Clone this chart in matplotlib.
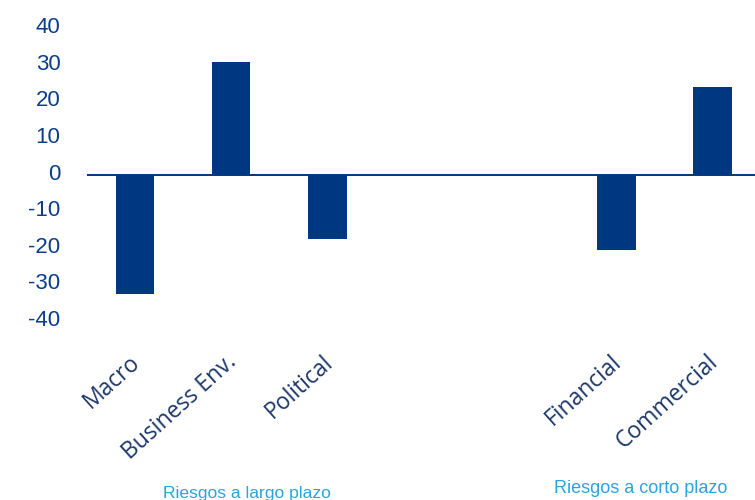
import numpy as np
import matplotlib.pyplot as plt
import matplotlib.transforms as mtransforms

# =============================
# DATA
# =============================

categories = ["Macro", "Business Env.", "Political", "Financial", "Commercial"]
positions = [0, 1, 2, 5, 6]
values = [-32.5, 30.8, -17.5, -20.5, 23.8]

group_labels = ["Riesgos a largo plazo", "Riesgos a corto plazo"]
group_centers = [1.16, 5.25]

yticks = [40, 30, 20, 10, 0, -10, -20, -30, -40]

# =============================
# STYLE
# =============================

BAR_BLUE = "#003781"
TICK_BLUE = "#0a3d8c"
LABEL_NAVY = "#1c3769"
LIGHT_BLUE = "#2aa3de"

plt.rcParams["font.family"] = ["DejaVu Sans"]

# =============================
# PLOT
# =============================

fig = plt.figure(figsize=(7.55, 5.0), dpi=100)
ax = fig.add_axes([0.115, 0.358, 0.885, 0.586])

ax.bar(positions, values, width=0.4, color=BAR_BLUE, zorder=2)
ax.axhline(0, color=BAR_BLUE, linewidth=1.4, zorder=3)

ax.set_xlim(-0.5, 6.44)
ax.set_ylim(-40, 40)

ax.set_yticks(yticks)
ax.set_yticklabels([str(v) for v in yticks], fontsize=16, color=TICK_BLUE,
                   family="Liberation Sans")
ax.tick_params(axis="y", length=0, pad=19)
ax.set_xticks([])

# tick labels sit a touch above their values in the original
up = mtransforms.ScaledTranslation(0, 3 / 100, fig.dpi_scale_trans)
for t in ax.get_yticklabels():
    t.set_transform(t.get_transform() + up)

for s in ax.spines.values():
    s.set_visible(False)

# category labels, rotated under each bar
trans = mtransforms.blended_transform_factory(ax.transData, ax.transAxes)
for x, lab in zip(positions, categories):
    ax.text(x - 0.06, -0.1, lab, transform=trans, rotation=42,
            ha="right", va="top", rotation_mode="anchor",
            fontsize=16.5, color=LABEL_NAVY, family="Open Sans")

# group captions
for x, lab, yy, fs in zip(group_centers, group_labels, [-0.59, -0.572], [12.6, 13]):
    ax.text(x, yy, lab, transform=trans, ha="center", va="center",
            fontsize=fs, color=LIGHT_BLUE, family="Liberation Sans")

fig.savefig("out.png", dpi=100)
